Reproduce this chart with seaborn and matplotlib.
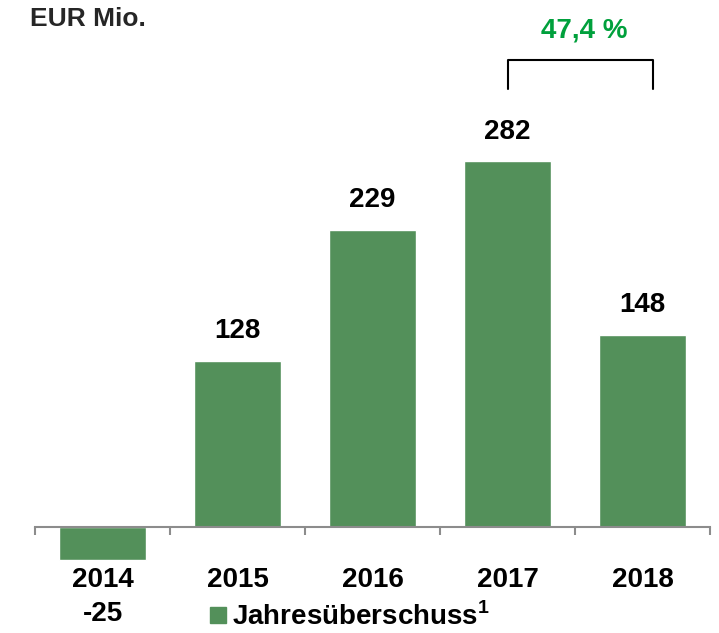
import matplotlib
matplotlib.use("Agg")
import matplotlib.pyplot as plt
from matplotlib.lines import Line2D
import seaborn as sns
import pandas as pd

# data
years = ["2014", "2015", "2016", "2017", "2018"]
jahresueberschuss = [-25, 128, 229, 282, 148]
change_label = "47,4 %"
change_from, change_to = 3, 4.08  # bracket ends, category positions

bar_green = "#53905A"
text_green = "#00A03C"

sns.set_theme(style="white")
plt.rcParams["font.family"] = ["Liberation Sans", "DejaVu Sans"]
plt.rcParams["font.weight"] = "bold"
plt.rcParams["text.color"] = "black"
plt.rcParams["xtick.color"] = "black"
plt.rcParams["mathtext.fontset"] = "custom"
plt.rcParams["mathtext.rm"] = "Liberation Sans:bold"
plt.rcParams["mathtext.bf"] = "Liberation Sans:bold"

df = pd.DataFrame({"year": years, "value": jahresueberschuss})

fig = plt.figure(figsize=(7.19, 6.33), dpi=100)
ax = fig.add_axes([35 / 719, 0.1058, 675 / 719, 0.8404])

sns.barplot(data=df, x="year", y="value", color=bar_green, width=0.64,
            saturation=1, ax=ax)

ax.set_xlim(-0.5, len(years) - 0.5)
ax.set_ylim(-30, 380)

# axis line at zero with tick marks between the categories
for s in ["top", "right", "left"]:
    ax.spines[s].set_visible(False)
ax.spines["bottom"].set_position(("data", 0))
ax.spines["bottom"].set_color("#8c8c8c")
ax.spines["bottom"].set_linewidth(1.5)
ax.set_yticks([])
ax.set_xticks(range(len(years)))
ax.set_xticklabels(years, fontsize=20, fontweight="bold", color="black")
ax.set_xticks([i - 0.5 for i in range(len(years) + 1)], minor=True)
ax.tick_params(axis="x", which="major", length=0, pad=29)
ax.tick_params(axis="x", which="minor", length=6, width=1.5,
               color="#8c8c8c", direction="out", bottom=True)
ax.set_xlabel("")
ax.set_ylabel("")

# value labels
for i, v in enumerate(jahresueberschuss):
    if v >= 0:
        ax.annotate(str(v), (i, v), xytext=(0, 12), textcoords="offset points",
                    ha="center", va="bottom", fontsize=20, fontweight="bold",
                    color="black")
    else:
        ax.annotate(str(v), (i, v), xytext=(0, -30), textcoords="offset points",
                    ha="center", va="top", fontsize=20, fontweight="bold",
                    color="black")

# bracket with growth label
top = 360
ax.plot([change_from, change_from, change_to, change_to], [338, top, top, 338],
        color="black", lw=1.5, clip_on=False)
ax.text((change_from + change_to) / 2 + 0.03, 383, change_label, ha="center",
        va="center", fontsize=20, fontweight="bold", color=text_green,
        clip_on=False)

fig.text(30 / 719, 0.970, "EUR Mio.", ha="left", va="center", fontsize=19,
         fontweight="bold", color="#262626")

handle = Line2D([], [], marker="s", linestyle="none", color=bar_green,
                markersize=11)
fig.legend([handle], [r"Jahresüberschuss$^{1}$"], loc="center left",
           bbox_to_anchor=(0.292, 0.026), frameon=False, borderpad=0,
           borderaxespad=0, handlelength=0.6, handletextpad=0.2,
           prop={"size": 20, "weight": "bold"})

fig.savefig("out.png", dpi=100)
